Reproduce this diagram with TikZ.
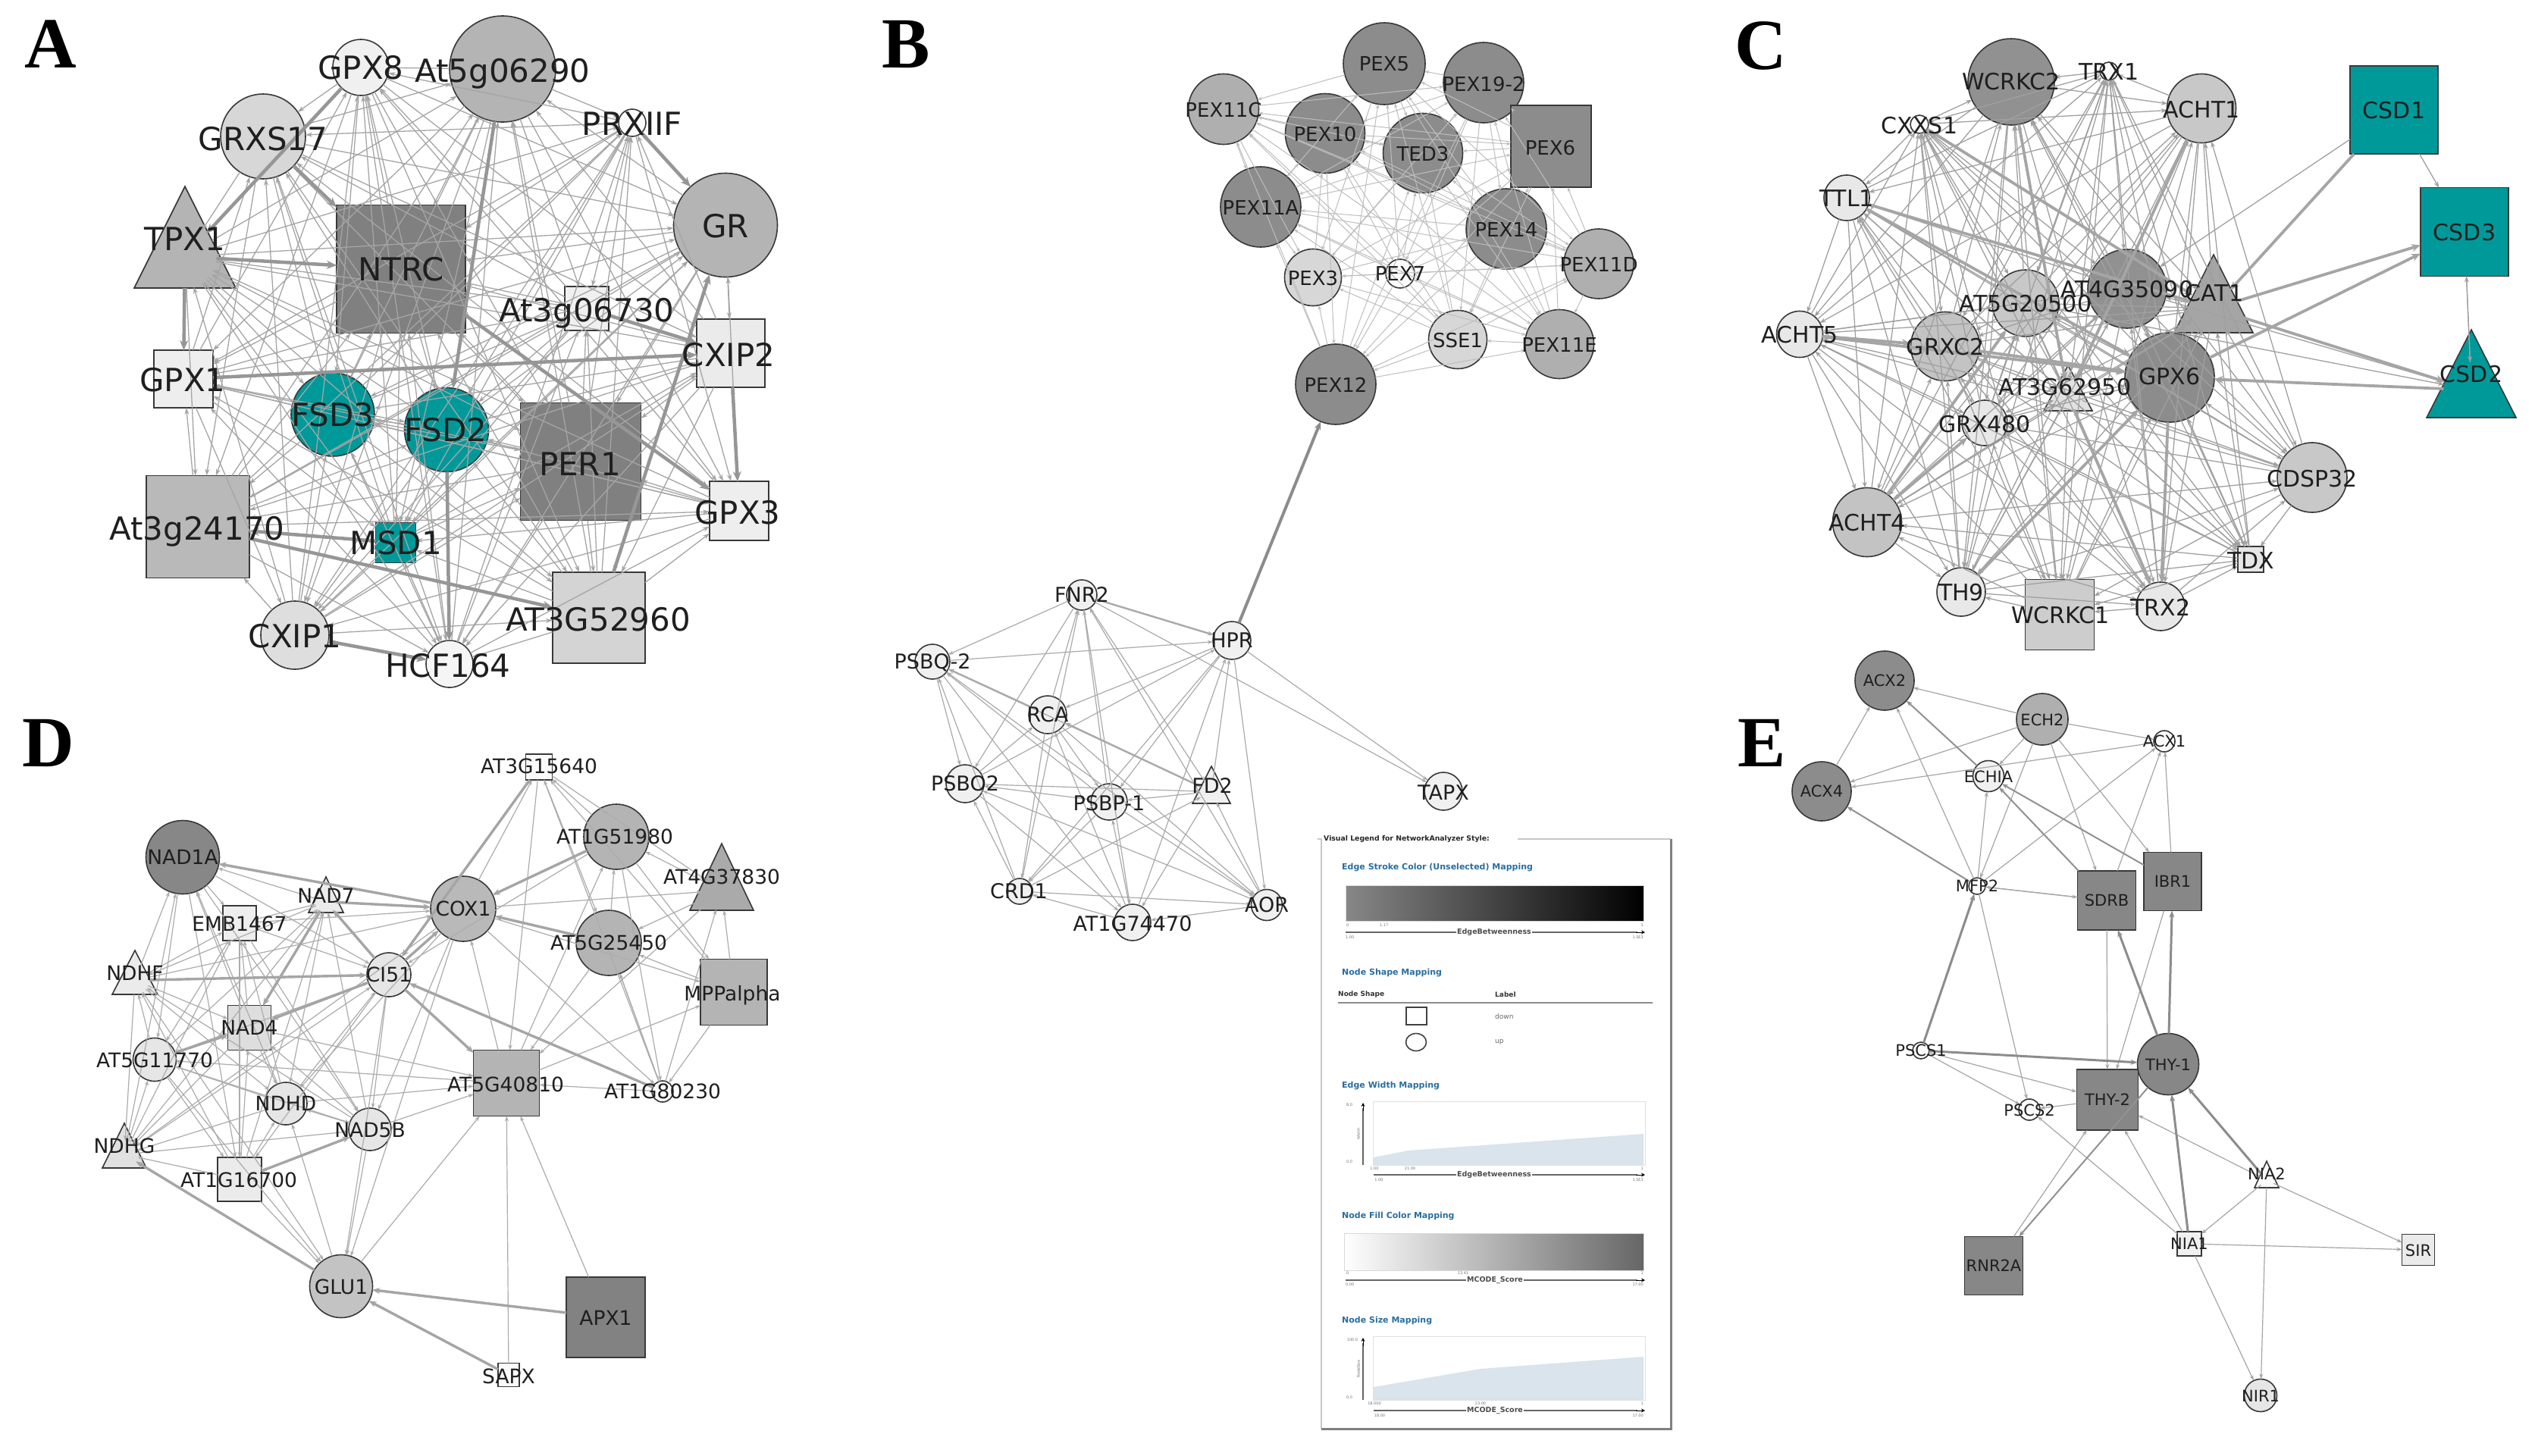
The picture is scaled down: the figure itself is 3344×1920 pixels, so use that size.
\documentclass[tikz,border=0pt]{standalone}
\usepackage{fontspec}
\setmainfont{DejaVu Sans}
\newfontfamily\letterfont{Liberation Serif}
\usetikzlibrary{arrows.meta,shapes.geometric}
\newcommand\fsz[1]{\fontsize{#1}{#1}\selectfont}
\definecolor{teal1}{RGB}{0,153,153}
\definecolor{n128}{RGB}{128,128,128}
\definecolor{n130}{RGB}{130,130,130}
\definecolor{n135}{RGB}{135,135,135}
\definecolor{n140}{RGB}{140,140,140}
\definecolor{n145}{RGB}{145,145,145}
\definecolor{n165}{RGB}{165,165,165}
\definecolor{n170}{RGB}{170,170,170}
\definecolor{n175}{RGB}{175,175,175}
\definecolor{n180}{RGB}{180,180,180}
\definecolor{n185}{RGB}{185,185,185}
\definecolor{n195}{RGB}{195,195,195}
\definecolor{n200}{RGB}{200,200,200}
\definecolor{n205}{RGB}{205,205,205}
\definecolor{n212}{RGB}{212,212,212}
\definecolor{n215}{RGB}{215,215,215}
\definecolor{n222}{RGB}{222,222,222}
\definecolor{n225}{RGB}{225,225,225}
\definecolor{n230}{RGB}{230,230,230}
\definecolor{n232}{RGB}{232,232,232}
\definecolor{n235}{RGB}{235,235,235}
\definecolor{n238}{RGB}{238,238,238}
\definecolor{n240}{RGB}{240,240,240}
\definecolor{n245}{RGB}{245,245,245}
\definecolor{n250}{RGB}{250,250,250}
\definecolor{edA}{RGB}{165,165,165}
\definecolor{edAk}{RGB}{150,150,150}
\definecolor{edB}{RGB}{190,190,190}
\definecolor{edBb}{RGB}{170,170,170}
\definecolor{edC}{RGB}{160,160,160}
\definecolor{edD}{RGB}{172,172,172}
\definecolor{edE}{RGB}{165,165,165}
\definecolor{legblue}{RGB}{40,110,160}
\definecolor{areablue}{RGB}{217,228,236}
\tikzset{
  nb/.style={draw=black!78, line width=1.6pt, inner sep=0pt, outer sep=0pt},
  lab/.style={inner sep=0pt, outer sep=0pt, text=black!88, text depth=0pt},
  labA/.style={lab, font=\fsz{42}, text height=30.6pt},
  labB/.style={lab, font=\fsz{26}, text height=19pt},
  labBb/.style={lab, font=\fsz{27}, text height=19.7pt},
  labC/.style={lab, font=\fsz{30}, text height=21.9pt},
  labD/.style={lab, font=\fsz{26.5}, text height=19.3pt},
  labE/.style={lab, font=\fsz{21}, text height=15.3pt},
  letter/.style={inner sep=0pt, font=\letterfont\bfseries\fsz{95}, text height=62.9pt, text depth=0pt},
  eA/.style={draw=edA, line width=1.3pt, -{Stealth[length=9pt,width=6pt]}},
  eAk/.style={draw=edAk, line width=4.5pt, -{Stealth[length=13pt,width=11pt]}},
  eB/.style={draw=edB, line width=1pt, -{Stealth[length=6pt,width=4.5pt]}},
  eBb/.style={draw=edBb, line width=1.2pt, -{Stealth[length=7pt,width=5pt]}},
  eBm/.style={draw=edBb, line width=2.4pt, -{Stealth[length=8pt,width=6pt]}},
  eBk/.style={draw=n140, line width=4pt, -{Stealth[length=11pt,width=9pt]}},
  eC/.style={draw=edC, line width=1.3pt, -{Stealth[length=8pt,width=6pt]}},
  eCk/.style={draw=n165, line width=3.8pt, -{Stealth[length=12pt,width=10pt]}},
  eD/.style={draw=edD, line width=1.2pt, -{Stealth[length=7pt,width=5pt]}},
  eDk/.style={draw=n165, line width=3.4pt, -{Stealth[length=10pt,width=8pt]}},
  eE/.style={draw=edE, line width=1.2pt, -{Stealth[length=7pt,width=5pt]}},
  eEm/.style={draw=n145, line width=2pt, -{Stealth[length=8pt,width=6pt]}},
  eEk/.style={draw=n140, line width=3pt, -{Stealth[length=9pt,width=7pt]}},
  legf/.style={draw=black!22, line width=2pt},
  legf2/.style={draw=black!50, line width=3pt},
  legtitle/.style={inner sep=0pt, anchor=west, font=\bfseries\fsz{9.3}, text=black!85},
  leghead/.style={inner sep=0pt, anchor=west, font=\bfseries\fsz{11}, text=legblue},
  legsmall/.style={inner sep=1pt, fill=white, font=\bfseries\fsz{9.5}, text=black!70},
  legtxt/.style={inner sep=0pt, anchor=west, font=\fsz{9}, text=black!60},
  legcol/.style={inner sep=0pt, anchor=west, font=\bfseries\fsz{9}, text=black!80},
  legtiny/.style={inner sep=0pt, font=\fsz{5}, text=black!55},
  legaxis/.style={draw=black!60, line width=1.6pt},
  legbox/.style={draw=black!12, line width=1pt, fill=white},
  legshape/.style={draw=black!75, line width=2pt, fill=white, minimum width=27, minimum height=23, inner sep=0pt}
}
\newcommand\cnd[5]{\node[nb, circle, minimum size=#4, fill=#5] (#1) at (#2,#3) {};}
\newcommand\sqd[6]{\node[nb, rectangle, minimum width=#4, minimum height=#5, fill=#6] (#1) at (#2,#3) {};}
\newcommand\trid[6]{\draw[nb, fill=#6] (#2,#3) -- ({#2+#5},#4) -- ({#2-#5},#4) -- cycle;
  \node[circle, inner sep=0pt, outer sep=0pt, minimum size={1.24*#5}] (#1) at (#2,{#4-0.62*#5}) {};}
\newcommand\allpairs[3]{%
  \foreach \u [count=\cu] in {#2}{%
    \foreach \w [count=\cw] in {#2}{%
      \ifnum\cw>\cu\relax
        \pgfmathtruncatemacro\pp{mod(\cu+\cw,2)}%
        \ifnum\pp=0\relax \draw[#3] (#1\u) -- (#1\w);\else \draw[#3] (#1\w) -- (#1\u);\fi
      \fi
    }%
  }%
}
\begin{document}
\begin{tikzpicture}[x=1pt,y=-1pt]
\useasboundingbox (0,0) rectangle (3344,1920);
\fill[white] (0,0) rectangle (3344,1920);

% ---------------- Panel letters
\node[letter] (LA) at (67,58) {A};
\node[letter] (LB) at (1195,58) {B};
\node[letter] (LC) at (2323,60) {C};
\node[letter] (LD) at (64,980) {D};
\node[letter] (LE) at (2324,980) {E};

% ---------------- Panel A
\cnd{a1}{476}{89}{74}{n240}
\cnd{a2}{663}{91}{140}{n180}
\cnd{a3}{347}{180}{112}{n215}
\cnd{a4}{834}{162}{36}{n250}
\trid{a5}{244}{246}{380}{67}{n180}
\sqd{a6}{529}{355}{170}{169}{n128}
\cnd{a7}{957}{297}{137}{n180}
\sqd{a8}{774}{407}{58}{58}{n240}
\sqd{a9}{964}{466}{90}{90}{n235}
\sqd{a10}{242}{500}{78}{76}{n238}
\cnd{a11}{439}{547}{110}{teal1}
\cnd{a12}{589}{567}{111}{teal1}
\sqd{a13}{766}{609}{159}{155}{n128}
\sqd{a14}{975}{674}{78}{78}{n238}
\sqd{a15}{261}{695}{136}{135}{n185}
\sqd{a16}{522}{716}{53}{53}{teal1}
\sqd{a17}{790}{815}{122}{120}{n212}
\cnd{a18}{389}{838}{90}{n222}
\cnd{a19}{593}{876}{62}{n245}
\allpairs{a}{1,...,19}{eA}
\foreach \u/\w in {1/5,5/10,5/6,15/17,18/19,12/19,9/14,4/7,8/9,10/9,17/7,16/15,3/6,2/12,6/14}
  \draw[eAk] (a\u) -- (a\w);
\node[labA] (la1) at (476,89) {GPX8};
\node[labA] (la2) at (663,93) {At5g06290};
\node[labA] (la3) at (347,183) {GRXS17};
\node[labA] (la4) at (834,163) {PRXIIF};
\node[labA] (la5) at (244,315) {TPX1};
\node[labA] (la6) at (529,355) {NTRC};
\node[labA] (la7) at (957,298) {GR};
\node[labA] (la8) at (774,409) {At3g06730};
\node[labA] (la9) at (961,468) {CXIP2};
\node[labA] (la10) at (241,501) {GPX1};
\node[labA] (la11) at (439,547) {FSD3};
\node[labA] (la12) at (588,567) {FSD2};
\node[labA] (la13) at (765,612) {PER1};
\node[labA] (la14) at (973,676) {GPX3};
\node[labA] (la15) at (260,697) {At3g24170};
\node[labA] (la16) at (522,716) {MSD1};
\node[labA] (la17) at (789,817) {AT3G52960};
\node[labA] (la18) at (389,839) {CXIP1};
\node[labA] (la19) at (591,878) {HCF164};

% ---------------- Panel B (top cluster)
\cnd{b1}{1826}{84}{108}{n140}
\cnd{b2}{1957}{109}{106}{n140}
\cnd{b3}{1614}{144}{93}{n175}
\cnd{b4}{1748}{176}{105}{n140}
\cnd{b5}{1877}{202}{105}{n140}
\sqd{b6}{2046}{193}{106}{108}{n140}
\cnd{b7}{1663}{273}{106}{n140}
\cnd{b8}{1987}{302}{106}{n140}
\cnd{b9}{1732}{366}{75}{n215}
\cnd{b10}{1847}{361}{38}{n250}
\cnd{b11}{2109}{348}{92}{n175}
\cnd{b12}{1923}{448}{77}{n215}
\cnd{b13}{2057}{454}{91}{n175}
\cnd{b14}{1762}{507}{106}{n140}
\allpairs{b}{1,...,14}{eB}

% ---------------- Panel B (bottom cluster)
\cnd{p1}{1427}{785}{40}{n240}
\cnd{p2}{1625}{845}{50}{n240}
\cnd{p3}{1230}{873}{46}{n240}
\cnd{p4}{1382}{943}{50}{n240}
\cnd{p5}{1273}{1034}{50}{n240}
\cnd{p6}{1463}{1058}{48}{n240}
\trid{p7}{1598}{1011}{1060}{25}{n240}
\cnd{p8}{1345}{1176}{34}{n240}
\cnd{p9}{1494}{1217}{48}{n240}
\cnd{p10}{1671}{1194}{41}{n240}
\cnd{p11}{1904}{1044}{50}{n240}
\allpairs{p}{1,...,10}{eBb}
\draw[eBb] (p2) -- (p11);
\draw[eBb] (p1) -- (p11);
\draw[eBm] (p1) -- (p2);
\draw[eBm] (p4) -- (p3);
\draw[eBm] (p7) -- (p4);
\draw[eBk] (p2) -- (b14);

\node[labB] (lb1) at (1826,84) {PEX5};
\node[labB] (lb2) at (1957,111) {PEX19-2};
\node[labB] (lb3) at (1614,145) {PEX11C};
\node[labB] (lb4) at (1748,177) {PEX10};
\node[labB] (lb5) at (1877,203) {TED3};
\node[labB] (lb6) at (2045,195) {PEX6};
\node[labB] (lb7) at (1663,274) {PEX11A};
\node[labB] (lb8) at (1987,303) {PEX14};
\node[labB] (lb9) at (1732,367) {PEX3};
\node[labB] (lb10) at (1847,361) {PEX7};
\node[labB] (lb11) at (2109,349) {PEX11D};
\node[labB] (lb12) at (1923,449) {SSE1};
\node[labB] (lb13) at (2057,455) {PEX11E};
\node[labB] (lb14) at (1762,508) {PEX12};
\node[labBb] (lp1) at (1427,785) {FNR2};
\node[labBb] (lp2) at (1625,845) {HPR};
\node[labBb] (lp3) at (1230,873) {PSBQ-2};
\node[labBb] (lp4) at (1382,943) {RCA};
\node[labBb] (lp5) at (1273,1034) {PSBO2};
\node[labBb] (lp6) at (1463,1060) {PSBP-1};
\node[labBb] (lp7) at (1599,1037) {FD2};
\node[labBb] (lp8) at (1344,1176) {CRD1};
\node[labBb] (lp9) at (1494,1219) {AT1G74470};
\node[labBb] (lp10) at (1671,1194) {AOR};
\node[labBb] (lp11) at (1904,1046) {TAPX};

% ---------------- Legend
\draw[legf] (1743,1107) -- (1743,1885);
\draw[legf] (2002,1107) -- (2204,1107);
\draw[legf] (1738,1107) -- (1744,1107);
\draw[legf2] (1743,1885) -- (2204,1885) -- (2204,1107);
\node[legtitle] (lgt) at (1746,1107) {Visual Legend for NetworkAnalyzer Style:};
% edge stroke colour
\node[leghead] (lg1) at (1770,1144) {Edge Stroke Color (Unselected) Mapping};
\shade[left color=black!47, right color=black] (1775,1168) rectangle (2168,1215);
\draw[draw=black!15, line width=1pt] (1775,1168) rectangle (2168,1215);
\node[legtiny, anchor=west] (lg1a) at (1776,1221) {0};
\node[legtiny, anchor=west] (lg1b) at (1820,1221) {1.17};
\node[legtiny, anchor=east] (lg1c) at (2168,1221) {1};
\draw[legaxis] (1775,1230) -- (2160,1230);
\draw[draw=black, line width=1pt, -{Stealth[length=5pt,width=5pt]}] (2158,1230) -- (2170,1230);
\node[legsmall] (lg1d) at (1971,1230) {EdgeBetweenness};
\node[legtiny, anchor=west] (lg1e) at (1775,1237) {1.00};
\node[legtiny, anchor=east] (lg1f) at (2168,1237) {1.5E3};
% node shape
\node[leghead] (lg2) at (1770,1283) {Node Shape Mapping};
\node[legcol] (lg2a) at (1765,1312) {Node Shape};
\node[legcol] (lg2b) at (1972,1312) {Label};
\draw[draw=black!45, line width=2pt] (1765,1323) -- (2180,1323);
\node[legshape, rectangle] (lg2c) at (1868,1340) {};
\node[legtxt] (lg2d) at (1972,1341) {down};
\node[legshape, ellipse, line width=1.6pt] (lg2e) at (1868,1375) {};
\node[legtxt] (lg2f) at (1972,1375) {up};
% edge width
\node[leghead] (lg3) at (1770,1432) {Edge Width Mapping};
\draw[legbox] (1811,1453) rectangle (2170,1537);
\fill[areablue] (1812,1527) -- (1857,1518) -- (2168,1496) -- (2168,1537) -- (1812,1537) -- cycle;
\draw[legaxis] (1798,1537) -- (1798,1462);
\draw[draw=black, line width=1pt, -{Stealth[length=5pt,width=5pt]}] (1798,1466) -- (1798,1455);
\node[legtiny] (lg3a) at (1780,1458) {8.0};
\node[legtiny] (lg3b) at (1780,1533) {0.0};
\node[legtiny, rotate=90] (lg3c) at (1792,1496) {Width};
\node[legtiny] (lg3d) at (1813,1542) {1.00};
\node[legtiny] (lg3e) at (1860,1542) {21.00};
\node[legtiny, anchor=east] (lg3f) at (2168,1542) {1};
\draw[legaxis] (1812,1550) -- (2160,1550);
\draw[draw=black, line width=1pt, -{Stealth[length=5pt,width=5pt]}] (2158,1550) -- (2170,1550);
\node[legsmall] (lg3g) at (1971,1550) {EdgeBetweenness};
\node[legtiny] (lg3h) at (1819,1557) {1.00};
\node[legtiny, anchor=east] (lg3i) at (2168,1557) {1.5E3};
% node fill colour
\node[leghead] (lg4) at (1770,1604) {Node Fill Color Mapping};
\shade[left color=white, right color=black!60] (1773,1627) rectangle (2168,1676);
\draw[draw=black!15, line width=1pt] (1773,1627) rectangle (2168,1676);
\node[legtiny, anchor=west] (lg4a) at (1776,1680) {0};
\node[legtiny] (lg4b) at (1930,1680) {13.41};
\node[legtiny, anchor=east] (lg4c) at (2168,1680) {1};
\draw[legaxis] (1775,1689) -- (2160,1689);
\draw[draw=black, line width=1pt, -{Stealth[length=5pt,width=5pt]}] (2158,1689) -- (2170,1689);
\node[legsmall] (lg4d) at (1972,1689) {MCODE\_Score};
\node[legtiny, anchor=west] (lg4e) at (1775,1695) {0.00};
\node[legtiny, anchor=east] (lg4f) at (2168,1695) {17.00};
% node size
\node[leghead] (lg5) at (1770,1742) {Node Size Mapping};
\draw[legbox] (1811,1763) rectangle (2170,1847);
\fill[areablue] (1812,1830) -- (1953,1806) -- (2168,1790) -- (2168,1847) -- (1812,1847) -- cycle;
\draw[legaxis] (1798,1847) -- (1798,1772);
\draw[draw=black, line width=1pt, -{Stealth[length=5pt,width=5pt]}] (1798,1776) -- (1798,1765);
\node[legtiny] (lg5a) at (1784,1768) {100.0};
\node[legtiny] (lg5b) at (1780,1844) {0.0};
\node[legtiny, rotate=90] (lg5c) at (1792,1806) {NodeSize};
\node[legtiny] (lg5d) at (1813,1852) {18.000};
\node[legtiny] (lg5e) at (1953,1852) {23.00};
\node[legtiny, anchor=east] (lg5f) at (2168,1852) {1};
\draw[legaxis] (1812,1861) -- (2160,1861);
\draw[draw=black, line width=1pt, -{Stealth[length=5pt,width=5pt]}] (2158,1861) -- (2170,1861);
\node[legsmall] (lg5g) at (1972,1861) {MCODE\_Score};
\node[legtiny] (lg5h) at (1820,1868) {18.00};
\node[legtiny, anchor=east] (lg5i) at (2168,1868) {17.00};

% ---------------- Panel C
\cnd{c1}{2653}{108}{114}{n145}
\cnd{c2}{2782}{94}{24}{n250}
\cnd{c3}{2904}{143}{91}{n200}
\cnd{c4}{2532}{164}{24}{n250}
\cnd{c5}{2436}{261}{60}{n232}
\cnd{c6}{2806}{381}{104}{n145}
\trid{c7}{2920}{336}{439}{52}{n165}
\cnd{c8}{2672}{400}{88}{n200}
\cnd{c9}{2374}{441}{61}{n232}
\cnd{c10}{2566}{457}{91}{n195}
\cnd{c11}{2862}{498}{118}{n140}
\trid{c12}{2728}{482}{542}{32}{n225}
\cnd{c13}{2618}{558}{60}{n232}
\cnd{c14}{3050}{630}{92}{n200}
\cnd{c15}{2463}{689}{91}{n195}
\sqd{c16}{2969}{738}{34}{34}{n230}
\cnd{c17}{2587}{781}{64}{n232}
\sqd{c18}{2717}{811}{91}{93}{n205}
\cnd{c19}{2850}{800}{64}{n232}
\sqd{c20}{3158}{145}{116}{116}{teal1}
\sqd{c21}{3251}{306}{116}{117}{teal1}
\trid{c22}{3260}{435}{551}{59}{teal1}
\allpairs{c}{1,...,19}{eC}
\foreach \u/\w in {20/21,20/6,21/22,22/21,6/22,8/22}
  \draw[eC] (c\u) -- (c\w);
\foreach \u/\w in {20/7,7/21,11/21,22/11,7/22,9/10,9/11,4/7,1/12,15/8,15/13,17/11,11/19,12/19,3/12,5/11,10/11,5/7}
  \draw[eCk] (c\u) -- (c\w);
\node[labC] (lc1) at (2653,108) {WCRKC2};
\node[labC] (lc2) at (2782,95) {TRX1};
\node[labC] (lc3) at (2904,145) {ACHT1};
\node[labC] (lc4) at (2532,166) {CXXS1};
\node[labC] (lc5) at (2436,262) {TTL1};
\node[labC] (lc6) at (2806,382) {AT4G35090};
\node[labC] (lc7) at (2921,387) {CAT1};
\node[labC] (lc8) at (2672,401) {AT5G20500};
\node[labC] (lc9) at (2374,442) {ACHT5};
\node[labC] (lc10) at (2566,458) {GRXC2};
\node[labC] (lc11) at (2862,497) {GPX6};
\node[labC] (lc12) at (2724,511) {AT3G62950};
\node[labC] (lc13) at (2618,560) {GRX480};
\node[labC] (lc14) at (3050,632) {CDSP32};
\node[labC] (lc15) at (2463,690) {ACHT4};
\node[labC] (lc16) at (2969,740) {TDX};
\node[labC] (lc17) at (2587,782) {TH9};
\node[labC] (lc18) at (2718,812) {WCRKC1};
\node[labC] (lc19) at (2850,802) {TRX2};
\node[labC] (lc20) at (3158,146) {CSD1};
\node[labC] (lc21) at (3251,307) {CSD3};
\node[labC] (lc22) at (3260,494) {CSD2};

% ---------------- Panel D
\sqd{d1}{711}{1012}{35}{34}{n250}
\cnd{d2}{241}{1131}{97}{n135}
\cnd{d3}{813}{1104}{86}{n180}
\trid{d4}{952}{1113}{1201}{42}{n170}
\trid{d5}{430}{1157}{1204}{23}{n235}
\sqd{d6}{316}{1218}{44}{46}{n238}
\cnd{d7}{611}{1199}{86}{n185}
\cnd{d8}{803}{1244}{86}{n180}
\trid{d9}{178}{1254}{1312}{30}{n235}
\cnd{d10}{513}{1286}{58}{n230}
\sqd{d11}{968}{1309}{88}{87}{n180}
\sqd{d12}{329}{1356}{57}{59}{n222}
\cnd{d13}{204}{1398}{57}{n230}
\sqd{d14}{668}{1429}{87}{87}{n180}
\cnd{d15}{874}{1440}{28}{n250}
\cnd{d16}{377}{1456}{56}{n230}
\cnd{d17}{488}{1490}{56}{n230}
\trid{d18}{164}{1482}{1541}{29}{n225}
\sqd{d19}{316}{1556}{58}{58}{n235}
\cnd{d20}{450}{1697}{83}{n195}
\sqd{d21}{799}{1738}{104}{106}{n130}
\sqd{d22}{671}{1814}{28}{31}{n250}
\allpairs{d}{2,5,6,9,10,12,13,16,17,18,19}{eD}
\allpairs{d}{1,3,4,7,8,11,14,15}{eD}
\foreach \u/\w in {5/7,6/7,9/7,7/2,7/17,7/18,7/16,10/1,3/10,14/13,17/14,16/14,12/14,20/18,20/16,17/20,7/20,10/20,20/14,9/20,13/20,19/20,21/14,21/20,22/14,22/20,15/8}
  \draw[eD] (d\u) -- (d\w);
\foreach \u/\w in {1/10,5/7,8/7,3/7,10/7,10/14,15/10,10/12,9/10,10/5,5/12,13/12,20/18,21/20,22/20,19/17,7/2}
  \draw[eDk] (d\u) -- (d\w);
\node[labD] (ld1) at (711,1011) {AT3G15640};
\node[labD] (ld2) at (241,1131) {NAD1A};
\node[labD] (ld3) at (811,1104) {AT1G51980};
\node[labD] (ld4) at (952,1157) {AT4G37830};
\node[labD] (ld5) at (430,1182) {NAD7};
\node[labD] (ld6) at (316,1219) {EMB1467};
\node[labD] (ld7) at (611,1199) {COX1};
\node[labD] (ld8) at (803,1244) {AT5G25450};
\node[labD] (ld9) at (178,1284) {NDHF};
\node[labD] (ld10) at (513,1286) {CI51};
\node[labD] (ld11) at (966,1311) {MPPalpha};
\node[labD] (ld12) at (329,1356) {NAD4};
\node[labD] (ld13) at (204,1399) {AT5G11770};
\node[labD] (ld14) at (667,1431) {AT5G40810};
\node[labD] (ld15) at (874,1440) {AT1G80230};
\node[labD] (ld16) at (377,1456) {NDHD};
\node[labD] (ld17) at (488,1491) {NAD5B};
\node[labD] (ld18) at (164,1512) {NDHG};
\node[labD] (ld19) at (315,1557) {AT1G16700};
\node[labD] (ld20) at (450,1698) {GLU1};
\node[labD] (ld21) at (799,1739) {APX1};
\node[labD] (ld22) at (671,1816) {SAPX};

% ---------------- Panel E
\cnd{e1}{2486}{898}{78}{n140}
\cnd{e2}{2694}{949}{68}{n175}
\cnd{e3}{2855}{978}{28}{n250}
\cnd{e4}{2623}{1024}{41}{n240}
\cnd{e5}{2403}{1044}{78}{n140}
\cnd{e6}{2608}{1169}{22}{n250}
\sqd{e7}{2779}{1188}{77}{78}{n135}
\sqd{e8}{2866}{1163}{76}{77}{n135}
\cnd{e9}{2534}{1386}{22}{n250}
\sqd{e11}{2780}{1451}{81}{80}{n135}
\cnd{e10}{2860}{1404}{81}{n135}
\cnd{e12}{2677}{1464}{28}{n250}
\trid{e13}{2990}{1532}{1567}{16}{n250}
\sqd{e14}{2888}{1641}{32}{32}{n240}
\sqd{e15}{3190}{1649}{43}{41}{n235}
\sqd{e16}{2630}{1670}{77}{77}{n135}
\cnd{e17}{2982}{1841}{43}{n230}
\foreach \u/\w in {2/1,5/1,2/5,2/3,2/4,2/6,2/7,2/8,3/5,6/1,6/4,6/3,6/7,7/6,7/3,8/3,6/12,9/11,9/12,8/11,7/11,11/12,13/11,13/14,13/15,13/17,14/15,14/17,14/11,14/12,16/11}
  \draw[eE] (e\u) -- (e\w);
\foreach \u/\w in {4/1,6/5,7/4,8/4,10/16}
  \draw[eEm] (e\u) -- (e\w);
\foreach \u/\w in {9/6,9/10,10/7,10/8,13/10,14/10}
  \draw[eEk] (e\u) -- (e\w);
\node[labE] (le1) at (2486,898) {ACX2};
\node[labE] (le2) at (2694,950) {ECH2};
\node[labE] (le3) at (2855,978) {ACX1};
\node[labE] (le4) at (2623,1025) {ECHIA};
\node[labE] (le5) at (2403,1044) {ACX4};
\node[labE] (le6) at (2608,1169) {MFP2};
\node[labE] (le7) at (2779,1188) {SDRB};
\node[labE] (le8) at (2866,1163) {IBR1};
\node[labE] (le9) at (2534,1386) {PSCS1};
\node[labE] (le10) at (2860,1405) {THY-1};
\node[labE] (le11) at (2780,1451) {THY-2};
\node[labE] (le12) at (2677,1465) {PSCS2};
\node[labE] (le13) at (2990,1549) {NIA2};
\node[labE] (le14) at (2888,1641) {NIA1};
\node[labE] (le15) at (3190,1650) {SIR};
\node[labE] (le16) at (2630,1670) {RNR2A};
\node[labE] (le17) at (2982,1842) {NIR1};
\end{tikzpicture}
\end{document}
